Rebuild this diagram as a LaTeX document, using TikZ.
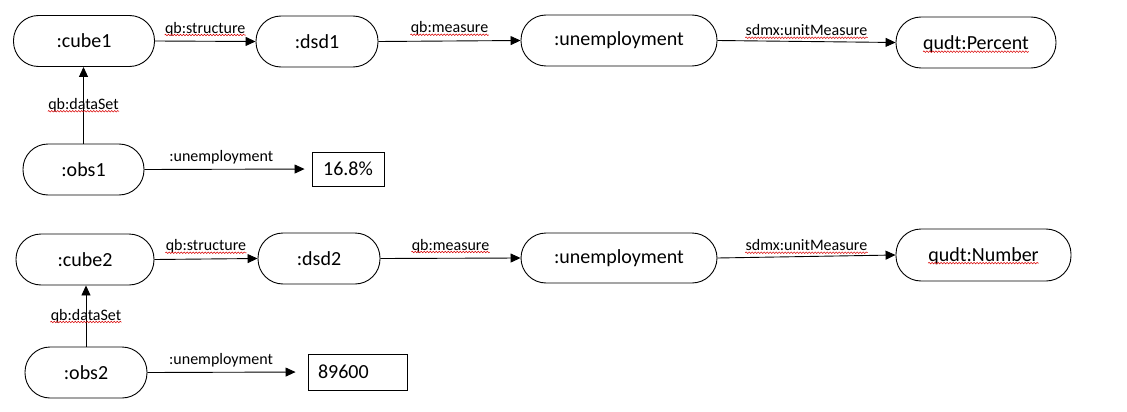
\documentclass[tikz,border=0pt]{standalone}
\usepackage{fontspec}
\setmainfont{Carlito}
\usetikzlibrary{arrows.meta,decorations.pathmorphing}
\begin{document}
\begin{tikzpicture}[x=1pt,y=-1pt,
  term/.style={draw, line width=0.9pt, rounded corners=25pt, inner sep=0pt, minimum height=51pt, font=\fontsize{20}{24}\selectfont},
  val/.style={draw, line width=0.9pt, inner sep=0pt, font=\fontsize{20}{24}\selectfont},
  ttext/.style={inner sep=0pt, font=\fontsize{20}{24}\selectfont},
  conn/.style={line width=0.9pt, -{Triangle[length=10pt,width=9pt]}},
  lab/.style={font=\fontsize{16}{19}\selectfont, inner sep=0pt},
  squig/.style={red!85!black, line width=0.5pt, decorate, decoration={snake, amplitude=0.8pt, segment length=3pt}}]
\useasboundingbox (0,0) rectangle (1127,412);
% ---- top graph ----
\node[term, minimum width=141pt] (cube1) at (84,41) {:cube1};
\node[term, minimum width=122pt] (dsd1) at (317,41.5) {:dsd1};
\node[term, minimum width=196pt] (unemp1) at (619,40.5) {:unemployment};
\node[term, minimum width=160pt] (pct) at (976,42.5) {};
\node[ttext] (pctt) at ([yshift=-2pt]pct.center) {qudt:Percent};
\node[term, minimum width=121pt] (obs1) at (83.5,169.5) {:obs1};
\node[val, minimum width=72pt, minimum height=34pt] (v1) at (348,169) {16.8\%};
\draw[conn] (cube1.east) -- node[lab, above=5pt] (l1) {qb:structure} (dsd1.west);
\draw[conn] (dsd1.east) -- node[lab, above=5pt] (l2) {qb:measure} (unemp1.west);
\draw[conn] (unemp1.east) -- node[lab, above=5pt] (l3) {sdmx:unitMeasure} (pct.west);
\draw[conn] (obs1.north) -- node[lab, pos=0.5] (l4) {qb:dataSet} (obs1.north |- cube1.south);
\draw[conn, shorten >=7pt] (obs1.east) -- node[lab, above=5pt, pos=0.46] (l5) {:unemployment} (v1.west);
% ---- bottom graph ----
\node[term, minimum width=138pt] (cube2) at (85,259.5) {:cube2};
\node[term, minimum width=122pt] (dsd2) at (319,258.5) {:dsd2};
\node[term, minimum width=196pt, minimum height=50pt] (unemp2) at (619,258) {:unemployment};
\node[term, minimum width=175pt, minimum height=52pt] (num) at (983.5,255) {};
\node[ttext] (numt) at ([yshift=-1pt]num.center) {qudt:Number};
\node[term, minimum width=122pt] (obs2) at (86,372.5) {:obs2};
\node[val, minimum width=99pt, minimum height=36pt, text width=79pt, inner xsep=10pt, align=left] (v2) at (357.5,372) {89600};
\draw[conn] (cube2.east) -- node[lab, above=5pt] (m1) {qb:structure} (dsd2.west);
\draw[conn] (dsd2.east) -- node[lab, above=5pt] (m2) {qb:measure} (unemp2.west);
\draw[conn] (unemp2.east) -- node[lab, above=5pt] (m3) {sdmx:unitMeasure} (num.west);
\draw[conn] (obs2.north) -- node[lab, pos=0.5] (m4) {qb:dataSet} (obs2.north |- cube2.south);
\draw[conn, shorten >=12pt] (obs2.east) -- node[lab, above=5pt, pos=0.46] (m5) {:unemployment} (v2.west);
% ---- spell-check squiggles ----
\foreach \n in {l1,l2,l3,l4,m1,m2,m3,m4,pctt,numt}{
  \draw[squig] ([yshift=-1.8pt]\n.base west) -- ([yshift=-1.8pt]\n.base east);
}
\end{tikzpicture}
\end{document}
